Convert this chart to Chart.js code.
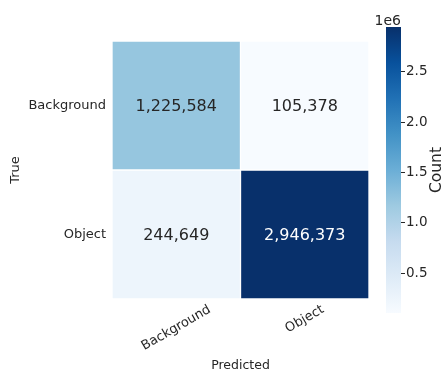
<!DOCTYPE html>
<html>
<head>
<meta charset="utf-8">
<script src="https://cdn.jsdelivr.net/npm/chart.js@4.4.1/dist/chart.umd.min.js"></script>
<style>
  html, body { margin: 0; padding: 0; background: #fff; }
  #wrap { position: relative; width: 446px; height: 373px; }
  #matrixChart { position: absolute; left: 0; top: 0; }
  #scaleChart { position: absolute; left: 370px; top: 0; }
</style>
</head>
<body>
<div id="wrap">
  <canvas id="matrixChart" width="446" height="373"></canvas>
  <canvas id="scaleChart" width="76" height="373"></canvas>
</div>
<script>
const predictedLabels = ["Background", "Object"];
const trueLabels = ["Background", "Object"];
// one array per true class, one value per predicted class
const countsBackground = [1225584, 105378];
const countsObject = [244649, 2946373];
const colorbarTicks = [0.5, 1.0, 1.5, 2.0, 2.5];
const colorbarExponent = 6;

const FONT = "'DejaVu Sans', 'Liberation Sans', sans-serif";
const TEXT = "#262626";

const rows = [countsBackground, countsObject];
const allCounts = rows.flat();
const vmin = Math.min(...allCounts);
const vmax = Math.max(...allCounts);

// matplotlib "Blues"
const blues = ["#f7fbff", "#deebf7", "#c6dbef", "#9ecae1", "#6baed6", "#4292c6", "#2171b5", "#08519c", "#08306b"];

function hexToRgb(h) {
  return [1, 3, 5].map(i => parseInt(h.substr(i, 2), 16));
}

function bluesAt(t) {
  t = Math.max(0, Math.min(1, t));
  const pos = t * (blues.length - 1);
  const i = Math.min(Math.floor(pos), blues.length - 2);
  const f = pos - i;
  const a = hexToRgb(blues[i]), b = hexToRgb(blues[i + 1]);
  const c = a.map((v, k) => Math.round(v + (b[k] - v) * f));
  return `rgb(${c[0]},${c[1]},${c[2]})`;
}

function norm(v) {
  return (v - vmin) / (vmax - vmin);
}

// count written in the middle of every cell
const cellText = {
  id: "cellText",
  afterDatasetsDraw(chart) {
    const ctx = chart.ctx;
    ctx.save();
    ctx.font = `16px ${FONT}`;
    ctx.textAlign = "center";
    ctx.textBaseline = "middle";
    chart.data.datasets.forEach((ds, i) => {
      chart.getDatasetMeta(i).data.forEach((bar, j) => {
        const { x, y, base } = bar.getProps(["x", "y", "base"], true);
        const v = ds.counts[j];
        ctx.fillStyle = norm(v) > 0.5 ? "#ffffff" : TEXT;
        ctx.fillText(v.toLocaleString("en-US"), x, (y + base) / 2 + 1);
      });
    });
    ctx.restore();
  }
};

// rotated x tick labels, centred under each column
const rotatedTicks = {
  id: "rotatedTicks",
  afterDraw(chart) {
    const ctx = chart.ctx;
    const xs = chart.scales.x;
    const angle = Math.PI / 6;
    const size = 13;
    ctx.save();
    ctx.font = `${size}px ${FONT}`;
    ctx.fillStyle = TEXT;
    ctx.textAlign = "center";
    ctx.textBaseline = "middle";
    predictedLabels.forEach((label, i) => {
      const w = ctx.measureText(label).width;
      const boxH = w * Math.sin(angle) + size * Math.cos(angle);
      const px = xs.getPixelForTick(i);
      const cy = chart.chartArea.bottom + 4 + boxH / 2;
      ctx.save();
      ctx.translate(px, cy);
      ctx.rotate(-angle);
      ctx.fillText(label, 0, 0);
      ctx.restore();
    });
    ctx.restore();
  }
};

new Chart(document.getElementById("matrixChart"), {
  type: "bar",
  data: {
    labels: predictedLabels,
    datasets: trueLabels.map((name, r) => {
      const level = trueLabels.length - 1 - r;
      return {
        label: name,
        data: rows[r].map(() => [level, level + 1]),
        counts: rows[r],
        backgroundColor: rows[r].map(v => bluesAt(norm(v))),
        borderColor: "#ffffff",
        borderWidth: 1,
        borderSkipped: false,
        barPercentage: 1,
        categoryPercentage: 1,
        grouped: false
      };
    })
  },
  options: {
    responsive: false,
    animation: false,
    layout: { padding: { left: 0, right: 77, top: 41, bottom: 0 } },
    plugins: {
      legend: { display: false },
      tooltip: { enabled: false }
    },
    scales: {
      x: {
        grid: { display: false, drawTicks: false },
        border: { display: false },
        ticks: { display: false },
        afterFit: s => { s.height = 74; },
        title: {
          display: true,
          text: "Predicted",
          color: TEXT,
          font: { family: FONT, size: 12.5 },
          padding: { top: 0, bottom: 0 }
        }
      },
      y: {
        min: 0,
        max: trueLabels.length,
        afterBuildTicks: axis => {
          axis.ticks = trueLabels.map((_, r) => ({ value: trueLabels.length - 1 - r + 0.5 }));
        },
        afterFit: s => { s.width = 112; },
        grid: { display: false, drawTicks: false },
        border: { display: false },
        ticks: {
          padding: 6,
          color: TEXT,
          font: { family: FONT, size: 13 },
          callback: (value, index) => trueLabels[index]
        },
        title: {
          display: true,
          text: "True",
          color: TEXT,
          font: { family: FONT, size: 13 },
          padding: { top: 8, bottom: 0 }
        }
      }
    }
  },
  plugins: [cellText, rotatedTicks]
});

// colorbar: offset text on top and the rotated label
const colorbarText = {
  id: "colorbarText",
  afterDraw(chart) {
    const ctx = chart.ctx;
    const area = chart.chartArea;
    ctx.save();
    ctx.fillStyle = TEXT;
    ctx.font = `14px ${FONT}`;
    ctx.textAlign = "right";
    ctx.textBaseline = "alphabetic";
    ctx.fillText("1e" + colorbarExponent, area.right, area.top - 2);
    ctx.font = `15.5px ${FONT}`;
    ctx.textAlign = "center";
    ctx.textBaseline = "middle";
    ctx.translate(chart.width - 9, (area.top + area.bottom) / 2);
    ctx.rotate(-Math.PI / 2);
    ctx.fillText("Count", 0, 0);
    ctx.restore();
  }
};

new Chart(document.getElementById("scaleChart"), {
  type: "bar",
  data: {
    labels: ["Count"],
    datasets: [{
      data: [[vmin, vmax]],
      backgroundColor: context => {
        const { ctx, chartArea } = context.chart;
        if (!chartArea) return null;
        const g = ctx.createLinearGradient(0, chartArea.bottom, 0, chartArea.top);
        blues.forEach((c, i) => g.addColorStop(i / (blues.length - 1), c));
        return g;
      },
      borderWidth: 0,
      barPercentage: 1,
      categoryPercentage: 1
    }]
  },
  options: {
    responsive: false,
    animation: false,
    layout: { padding: { left: 16, right: 0, top: 27, bottom: 60 } },
    plugins: {
      legend: { display: false },
      tooltip: { enabled: false }
    },
    scales: {
      x: { display: false },
      y: {
        position: "right",
        min: vmin,
        max: vmax,
        afterBuildTicks: axis => {
          axis.ticks = colorbarTicks.map(t => ({ value: t * 10 ** colorbarExponent }));
        },
        afterFit: s => { s.width = 45; },
        grid: { drawOnChartArea: false, drawTicks: true, tickLength: 4, color: TEXT },
        border: { display: false },
        ticks: {
          padding: 1,
          color: TEXT,
          font: { family: FONT, size: 13.5 },
          callback: v => (v / 10 ** colorbarExponent).toFixed(1)
        }
      }
    }
  },
  plugins: [colorbarText]
});
</script>
</body>
</html>
